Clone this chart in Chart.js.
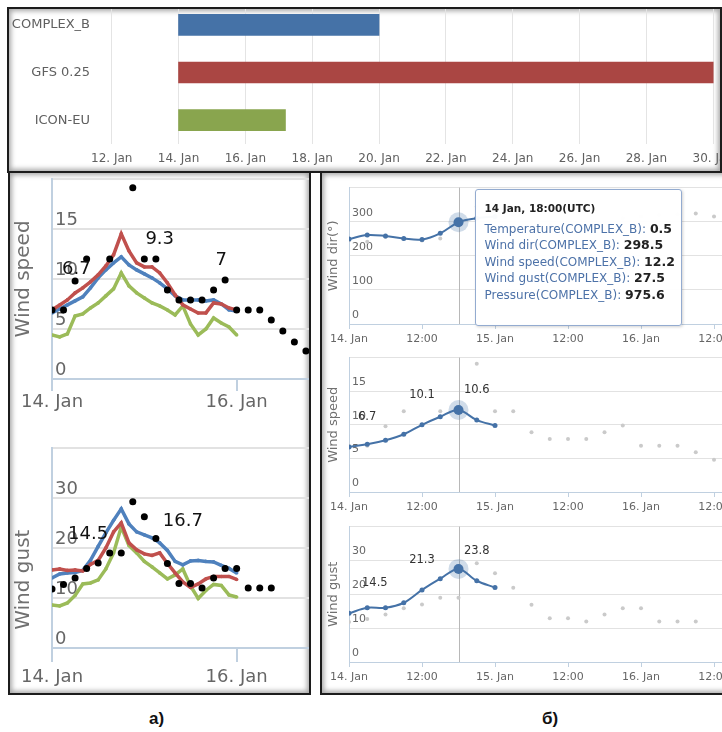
<!DOCTYPE html>
<html lang="ru">
<head>
<meta charset="UTF-8">
<title>Wind forecast runs</title>
<script src="https://cdn.jsdelivr.net/npm/chart.js@4.4.1/dist/chart.umd.min.js"></script>
<style>
  html, body { margin: 0; padding: 0; width: 722px; height: 732px; overflow: hidden; background: #fff; }
  .panel { position: absolute; border: 2px solid #1c1c1c; overflow: hidden; background: #fff;
           box-shadow: inset 0 0 5px 2px rgba(0, 0, 0, 0.35); }
  .panel canvas { position: absolute; }
  #top { left: 7px; top: 7px; width: 711px; height: 162px; }
  #left { left: 8px; top: 171px; width: 299px; height: 520px; }
  #right { left: 320px; top: 171px; width: 420px; height: 520px; }
  .cap { position: absolute; top: 709px; font: bold 17px "Liberation Sans", Arial, sans-serif; color: #111; }
  #tip { position: absolute; box-sizing: border-box; width: 207px; height: 137px; padding: 11px 6px 0 9px;
         background: rgba(255, 255, 255, 0.97); border: 1px solid #93abd0; border-radius: 3px;
         box-shadow: 1px 1px 3px rgba(0, 0, 0, 0.18); font-family: "DejaVu Sans", sans-serif; white-space: nowrap; }
  #tip .t { font-size: 10.5px; font-weight: bold; color: #222; line-height: 14px; margin-bottom: 6px; }
  #tip .r { font-size: 12px; line-height: 16.5px; color: #4d72a8; }
  #tip .r b { color: #222; font-size: 12.5px; }
</style>
</head>
<body>
<div class="panel" id="top"><canvas id="runs" width="751" height="170" style="left:0;top:-9px"></canvas></div>
<div class="panel" id="left">
  <canvas id="speedA" width="323" height="260" style="left:0;top:-8px"></canvas>
  <canvas id="gustA" width="323" height="260" style="left:0;top:261px"></canvas>
</div>
<div class="panel" id="right">
  <canvas id="dirB" width="412" height="170" style="left:0;top:5px"></canvas>
  <canvas id="speedB" width="412" height="168" style="left:0;top:175px"></canvas>
  <canvas id="gustB" width="412" height="169" style="left:0;top:344px"></canvas>
  <div id="tip"></div>
</div>
<div class="cap" style="left:149px">а)</div>
<div class="cap" style="left:542px">б)</div>

<script>
// model runs (top strip), day of January
const models = ['COMPLEX_B', 'GFS 0.25', 'ICON-EU'];
const runStart = [14, 14, 14];
const runEnd = [20, 30, 17.2];

const dayLabels = ['14. Jan', '15. Jan', '16. Jan', '17. Jan'];

// panel a): model output, hours after 14 Jan 00:00, every 2 h
const modelHours = [0, 2, 4, 6, 8, 10, 12, 14, 16, 18, 20, 22, 24, 26, 28, 30, 32, 34, 36, 38, 40, 42, 44, 46, 48];
const speedComplex = [6.6, 7.0, 7.4, 7.8, 8.2, 9.1, 10.1, 10.9, 11.6, 12.2, 11.4, 10.9, 10.5, 10.1, 9.6, 9.0, 8.3, 7.9, 7.9, 7.9, 7.8, 7.9, 7.5, 6.9, 6.8];
const speedGfs = [6.9, 7.4, 7.9, 8.6, 9.1, 9.7, 10.4, 11.3, 12.4, 14.5, 12.8, 11.6, 11.2, 11.2, 10.6, 9.6, 8.4, 7.4, 7.0, 6.6, 6.6, 7.6, 7.5, 7.1, 6.9];
const speedIcon = [4.4, 4.2, 4.5, 6.3, 6.5, 7.1, 7.6, 8.3, 9.0, 10.6, 9.3, 8.6, 8.1, 7.6, 7.3, 6.9, 6.4, 7.3, 5.5, 4.4, 5.0, 6.1, 5.6, 5.2, 4.4];
const gustComplex = [14.0, 14.8, 15.0, 15.1, 15.5, 17.5, 20.3, 23.0, 25.5, 27.8, 24.8, 23.2, 22.6, 22.0, 21.0, 19.5, 17.3, 16.6, 17.4, 17.5, 17.3, 17.2, 16.5, 15.9, 15.0];
const gustGfs = [15.6, 15.8, 15.5, 15.6, 15.4, 16.7, 17.5, 20.0, 23.2, 25.0, 21.0, 19.6, 18.8, 18.5, 19.0, 16.9, 15.0, 13.2, 12.1, 12.8, 13.8, 14.3, 14.3, 14.3, 13.7];
const gustIcon = [8.6, 8.4, 9.0, 10.5, 12.8, 13.0, 13.6, 15.8, 19.0, 24.2, 20.5, 19.0, 17.3, 16.2, 15.0, 13.8, 14.6, 15.8, 12.4, 9.9, 11.5, 12.7, 12.5, 10.6, 10.2];

// observations, every 3 h
const obsHours = [0, 3, 6, 9, 12, 15, 18, 21, 24, 27, 30, 33, 36, 39, 42, 45, 48, 51, 54, 57, 60, 63, 66];
const obsSpeed = [6.9, 6.9, 9.8, 12.0, null, 12.0, null, 19.1, 12.0, 12.0, 8.9, 7.9, 7.9, 7.9, 8.9, 9.9, 6.9, 6.9, 6.9, 5.9, 4.8, 3.7, 2.8];
const obsGust = [11.8, 12.7, 14.0, 15.9, 17.0, 19.0, 19.0, 29.2, 26.2, 21.9, 16.9, 12.9, 12.9, 12.0, 14.0, 15.9, 15.9, 12.0, 12.0, 12.0];
const obsDir = [245, 241, 255, 250, 245, 251, 300, 344, 330, 320, 300, 290, 280, 285, 300, 310, 315, 320, 322, 324, 315];

// panel б): COMPLEX_B, every 3 h
const fcHours = [0, 3, 6, 9, 12, 15, 18, 21, 24];
const fcDir = [249, 261, 258, 251, 248, 266, 298.5, 310, 315];
const fcSpeed = [6.7, 7.1, 7.7, 8.6, 10.0, 11.2, 12.2, 10.7, 9.9];
const fcGust = [14.4, 16.0, 16.0, 17.5, 21.3, 24.6, 27.5, 24.0, 22.0];

// printed values above the COMPLEX_B line
const speedNoteHoursA = [0, 28, 44];
const speedNotesA = ['6.7', '9.3', '7'];
const gustNoteHoursA = [0, 34];
const gustNotesA = ['14.5', '16.7'];
const speedNoteHoursB = [0, 12, 21];
const speedNotesB = ['6.7', '10.1', '10.6'];
const gustNoteHoursB = [0, 12, 21];
const gustNotesB = ['14.5', '21.3', '23.8'];

// hovered point
const focusHour = 18;
const tipTitle = '14 Jan, 18:00(UTC)';
const tipNames = ['Temperature', 'Wind dir', 'Wind speed', 'Wind gust', 'Pressure'];
const tipValues = [0.5, 298.5, 12.2, 27.5, 975.6];

const FONT = '"DejaVu Sans", sans-serif';
const axisBlue = '#c0d0e0';
const gridGray = '#e2e2e2';
const tickGray = '#666';
const C_BLUE = '#4572a7', C_RED = '#aa4643', C_GREEN = '#89a54e';

function pts(hours, vals) {
  return vals.map((v, i) => ({ x: hours[i], y: v }));
}

function noteLayer(hours, texts, set, lift, pad, font, color) {
  return {
    id: 'notes',
    afterDatasetsDraw(chart) {
      const ctx = chart.ctx, area = chart.chartArea;
      const data = chart.data.datasets[set].data, meta = chart.getDatasetMeta(set);
      ctx.save();
      ctx.font = font; ctx.fillStyle = color; ctx.textBaseline = 'middle'; ctx.textAlign = 'left';
      hours.forEach((h, k) => {
        const el = meta.data[data.findIndex(p => p.x === h)];
        const w = ctx.measureText(texts[k]).width;
        ctx.fillText(texts[k], Math.max(el.x - w / 2, area.left + pad), el.y - lift);
      });
      ctx.restore();
    }
  };
}

function focusLayer(hour) {
  return {
    id: 'focus',
    beforeDatasetsDraw(chart) {
      const { ctx, chartArea: a } = chart;
      const x = Math.round(chart.scales.x.getPixelForValue(hour)) + 0.5;
      ctx.save();
      ctx.strokeStyle = '#b8b8b8'; ctx.lineWidth = 1;
      ctx.beginPath(); ctx.moveTo(x, a.top); ctx.lineTo(x, a.bottom); ctx.stroke();
      ctx.restore();
    },
    afterDatasetsDraw(chart) {
      const ctx = chart.ctx, data = chart.data.datasets[0].data;
      const el = chart.getDatasetMeta(0).data[data.findIndex(p => p.x === hour)];
      ctx.save();
      ctx.fillStyle = 'rgba(69, 114, 167, 0.25)';
      ctx.beginPath(); ctx.arc(el.x, el.y, 10, 0, Math.PI * 2); ctx.fill();
      ctx.fillStyle = C_BLUE;
      ctx.beginPath(); ctx.arc(el.x, el.y, 5, 0, Math.PI * 2); ctx.fill();
      ctx.restore();
    }
  };
}

function windChart(id, o) {
  return new Chart(document.getElementById(id), {
    type: 'line',
    data: { datasets: o.sets },
    options: {
      responsive: false, animation: false, events: [],
      layout: { padding: { top: o.top, left: 0, right: 0, bottom: 0 } },
      plugins: { legend: { display: false }, tooltip: { enabled: false } },
      scales: {
        x: {
          type: 'linear', min: 0, max: o.xMax,
          afterFit: s => { s.height = o.xH; },
          grid: { drawOnChartArea: false, color: axisBlue, tickLength: o.tick, lineWidth: o.lw },
          border: { color: axisBlue, width: o.lw },
          ticks: { stepSize: o.xStep, includeBounds: false, autoSkip: false, maxRotation: 0, padding: o.xPad,
                   color: tickGray, font: { family: FONT, size: o.fs }, callback: o.xLabel }
        },
        y: {
          min: 0, max: o.yMax,
          afterFit: s => { s.width = o.yW; },
          grid: { color: gridGray, drawTicks: false, lineWidth: o.lw },
          border: { color: axisBlue, width: o.lw },
          title: { display: true, text: o.title, color: '#707070', font: { family: FONT, size: o.ts },
                   padding: { top: o.tp, bottom: 0 } },
          ticks: { stepSize: o.yStep, mirror: true, padding: 3, labelOffset: -9, color: tickGray,
                   font: { family: FONT, size: o.fs }, callback: v => (v === o.yMax ? '' : v) }
        }
      }
    },
    plugins: o.layers
  });
}

// top strip: model run coverage
new Chart(document.getElementById('runs'), {
  type: 'bar',
  data: {
    labels: models,
    datasets: [{
      data: runStart.map((s, i) => [s, runEnd[i]]),
      backgroundColor: [C_BLUE, C_RED, C_GREEN],
      barThickness: 21, borderSkipped: false
    }]
  },
  options: {
    indexAxis: 'y', responsive: false, animation: false, events: [],
    layout: { padding: { top: 1, left: 0, right: 0, bottom: 0 } },
    plugins: { legend: { display: false }, tooltip: { enabled: false } },
    scales: {
      x: {
        type: 'linear', min: 11.5, max: 31.4,
        afterFit: s => { s.height = 26; },
        grid: { color: '#e4e4e4', drawTicks: false },
        border: { display: false },
        ticks: { stepSize: 2, includeBounds: false, autoSkip: false, maxRotation: 0, padding: 8,
                 color: '#606060', font: { family: FONT, size: 12 }, callback: v => v + '. Jan' }
      },
      y: {
        afterFit: s => { s.width = 86; s.paddingTop = 0; s.paddingBottom = 0; },
        grid: { display: false, drawTicks: false }, border: { display: false },
        ticks: { padding: 5, color: '#606060', font: { family: FONT, size: 13 } }
      }
    }
  }
});

// panel a)
const leftCommon = {
  top: 5, xMax: 72, xH: 46, xStep: 48, lw: 2, fs: 18, ts: 20, tp: 2, yW: 42,
  xLabel: v => dayLabels[v / 24]
};
function leftSets(obs, blue, red, green) {
  const line = (vals, c) => ({ data: pts(modelHours, vals), borderColor: c, backgroundColor: c, borderWidth: 3.5,
                               pointRadius: 1.8, pointBorderWidth: 0, tension: 0 });
  return [
    { data: pts(obsHours, obs), showLine: false, pointRadius: 3.5, pointBorderWidth: 0, backgroundColor: '#000' },
    line(red, '#c0504d'), line(blue, '#4f81bd'), line(green, '#9bbb59')
  ];
}
windChart('speedA', Object.assign({}, leftCommon, {
  yMax: 20, yStep: 5, tick: 12, xPad: 1, title: 'Wind speed',
  sets: leftSets(obsSpeed, speedComplex, speedGfs, speedIcon),
  layers: [noteLayer(speedNoteHoursA, speedNotesA, 2, 44, 10, '18px ' + FONT, '#111')]
}));
windChart('gustA', Object.assign({}, leftCommon, {
  yMax: 40, yStep: 10, tick: 14, xPad: 5, title: 'Wind gust' + '\u00a0'.repeat(10),
  sets: leftSets(obsGust, gustComplex, gustGfs, gustIcon),
  layers: [noteLayer(gustNoteHoursA, gustNotesA, 2, 44, 16, '18px ' + FONT, '#111')]
}));

// panel б)
const rightCommon = {
  top: 9, xMax: 62, xH: 24, xStep: 12, lw: 1, fs: 11, ts: 13, tp: 4, yW: 27, tick: 5, xPad: 4,
  xLabel: v => (v % 24 === 0 ? dayLabels[v / 24] : '12:00')
};
function rightSets(fc, obs) {
  return [
    { data: pts(fcHours, fc), borderColor: C_BLUE, backgroundColor: C_BLUE, borderWidth: 2,
      pointRadius: 2.5, pointBorderWidth: 0, tension: 0.35 },
    { data: pts(obsHours, obs), showLine: false, pointRadius: 2, pointBorderWidth: 0, backgroundColor: '#cacaca' }
  ];
}
const dirChart = windChart('dirB', Object.assign({}, rightCommon, {
  yMax: 400, yStep: 100, title: 'Wind dir(°)',
  sets: rightSets(fcDir, obsDir), layers: [focusLayer(focusHour)]
}));
windChart('speedB', Object.assign({}, rightCommon, {
  yMax: 20, yStep: 5, title: 'Wind speed',
  sets: rightSets(fcSpeed, obsSpeed),
  layers: [focusLayer(focusHour), noteLayer(speedNoteHoursB, speedNotesB, 0, 30, 9, '11.5px ' + FONT, '#333')]
}));
windChart('gustB', Object.assign({}, rightCommon, {
  yMax: 40, yStep: 10, title: 'Wind gust',
  sets: rightSets(fcGust, obsGust),
  layers: [focusLayer(focusHour), noteLayer(gustNoteHoursB, gustNotesB, 0, 30, 13, '11.5px ' + FONT, '#333')]
}));

// hover box next to the focused point
const tip = document.getElementById('tip');
tip.innerHTML = '<div class="t">' + tipTitle + '</div>' +
  tipNames.map((n, i) => '<div class="r">' + n + '(COMPLEX_B): <b>' + tipValues[i] + '</b></div>').join('');
tip.style.left = (dirChart.scales.x.getPixelForValue(focusHour) + 16) + 'px';
tip.style.top = (5 + dirChart.chartArea.top + 1) + 'px';
</script>
</body>
</html>
